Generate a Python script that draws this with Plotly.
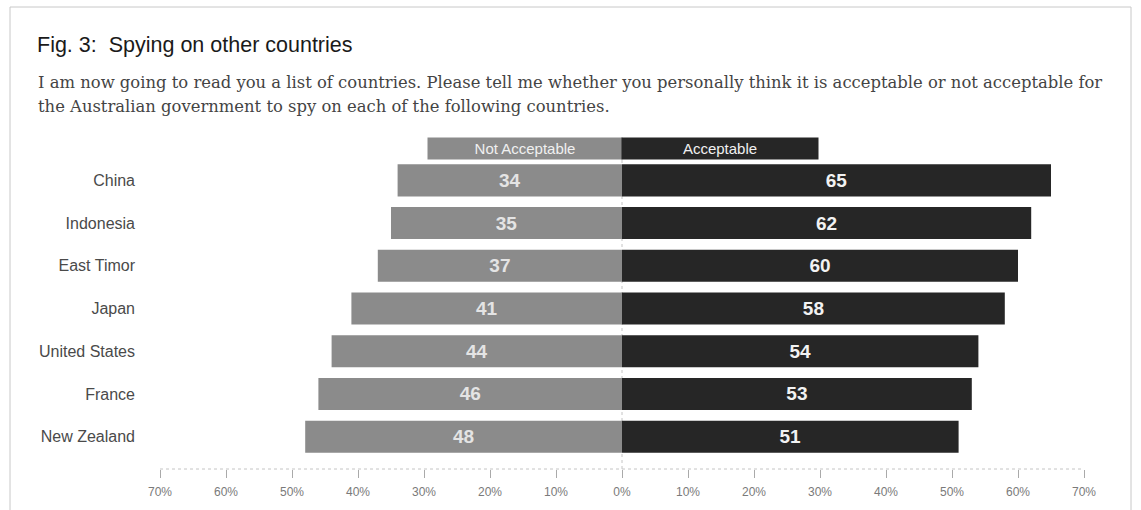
import plotly.graph_objects as go

# Survey results: share of respondents (%) per country
countries = ["China", "Indonesia", "East Timor", "Japan", "United States", "France", "New Zealand"]
not_acceptable = [34, 35, 37, 41, 44, 46, 48]
acceptable = [65, 62, 60, 58, 54, 53, 51]

tick_values = [-70, -60, -50, -40, -30, -20, -10, 0, 10, 20, 30, 40, 50, 60, 70]
tick_labels = [f"{abs(v)}%" for v in tick_values]

# header key spans (percentage units on each side of zero)
key_span_left = 29.4
key_span_right = 29.7

GREY = "#8b8b8b"
DARK = "#262626"
SANS = "Liberation Sans, Arial, sans-serif"
SERIF = "DejaVu Serif, Liberation Serif, serif"

W, H = 1141, 510
ML, MR, MT, MB = 160, 57, 159, 41
PW, PH = W - ML - MR, H - MT - MB
X_RANGE = 70.0
PX_PER_UNIT = PW / (2 * X_RANGE)


def px_x(p):
    return (p - ML) / PW


def px_y(q):
    return (H - MB - q) / PH


fig = go.Figure()

fig.add_trace(go.Bar(
    y=countries,
    x=[-v for v in not_acceptable],
    orientation="h",
    name="Not Acceptable",
    marker=dict(color=GREY, line=dict(width=0)),
    text=[str(v) for v in not_acceptable],
    textposition="inside",
    insidetextanchor="middle",
    textfont=dict(family=SANS, size=19, color="#e4e4e4", weight="bold"),
    hoverinfo="skip",
))
fig.add_trace(go.Bar(
    y=countries,
    x=acceptable,
    orientation="h",
    name="Acceptable",
    marker=dict(color=DARK, line=dict(width=0)),
    text=[str(v) for v in acceptable],
    textposition="inside",
    insidetextanchor="middle",
    textfont=dict(family=SANS, size=19, color="#f2f2f2", weight="bold"),
    hoverinfo="skip",
))

shapes = [
    # page frame
    dict(type="rect", xref="paper", yref="paper",
         x0=px_x(10), x1=px_x(1131), y0=px_y(520), y1=px_y(7),
         line=dict(color="#c8c8c8", width=1), fillcolor="rgba(0,0,0,0)", layer="below"),
    # dotted baseline under the bars
    dict(type="line", xref="paper", yref="paper", x0=0, x1=1, y0=0, y1=0,
         line=dict(color="#c4c4c4", width=1, dash="dot")),
    # dotted zero divider
    dict(type="line", xref="x", yref="paper", x0=0, x1=0, y0=0, y1=1,
         line=dict(color="#c4c4c4", width=1, dash="dot"), layer="below"),
]

annotations = [
    # header keys drawn as filled label boxes
    dict(text="Not Acceptable", xref="x", yref="paper",
         x=-key_span_left / 2, y=px_y(148), xanchor="center", yanchor="middle",
         width=key_span_left * PX_PER_UNIT, height=21, bgcolor=GREY, borderpad=0,
         showarrow=False, font=dict(family=SANS, size=15, color="#f0f0f0")),
    dict(text="Acceptable", xref="x", yref="paper",
         x=key_span_right / 2, y=px_y(148), xanchor="center", yanchor="middle",
         width=key_span_right * PX_PER_UNIT, height=21, bgcolor=DARK, borderpad=0,
         showarrow=False, font=dict(family=SANS, size=15, color="#f0f0f0")),
    dict(text="I am now going to read you a list of countries. Please tell me whether you personally "
              "think it is acceptable or not acceptable for",
         xref="paper", yref="paper", x=px_x(36), y=px_y(82), xanchor="left", yanchor="middle",
         showarrow=False, font=dict(family=SERIF, size=16.4, color="#444444")),
    dict(text="the Australian government to spy on each of the following countries.",
         xref="paper", yref="paper", x=px_x(36), y=px_y(106), xanchor="left", yanchor="middle",
         showarrow=False, font=dict(family=SERIF, size=16.4, color="#444444")),
]

fig.update_layout(
    width=W, height=H,
    margin=dict(l=ML, r=MR, t=MT, b=MB, autoexpand=False),
    paper_bgcolor="white",
    plot_bgcolor="white",
    barmode="relative",
    bargap=0.25,
    showlegend=False,
    title=dict(text="Fig. 3:  Spying on other countries", xref="container", yref="container",
               x=37 / W, y=1 - 44 / H, xanchor="left", yanchor="middle",
               font=dict(family=SANS, size=21.5, color="#1a1a1a")),
    xaxis=dict(range=[-X_RANGE, X_RANGE], tickvals=tick_values, ticktext=tick_labels,
               anchor="free", position=0,
               showgrid=False, zeroline=False, showline=False,
               ticks="outside", ticklen=8, tickcolor="#aaaaaa", tickwidth=1,
               ticklabelstandoff=4,
               tickfont=dict(family=SANS, size=12, color="#7a7a7a"),
               fixedrange=True),
    yaxis=dict(categoryorder="array", categoryarray=countries, autorange="reversed",
               domain=[px_y(458), 1],
               showgrid=False, zeroline=False, showline=False, ticks="",
               ticklabelstandoff=24,
               tickfont=dict(family=SANS, size=16, color="#4a4a4a"),
               fixedrange=True),
    shapes=shapes,
    annotations=annotations,
)

fig.write_html("out.html")
